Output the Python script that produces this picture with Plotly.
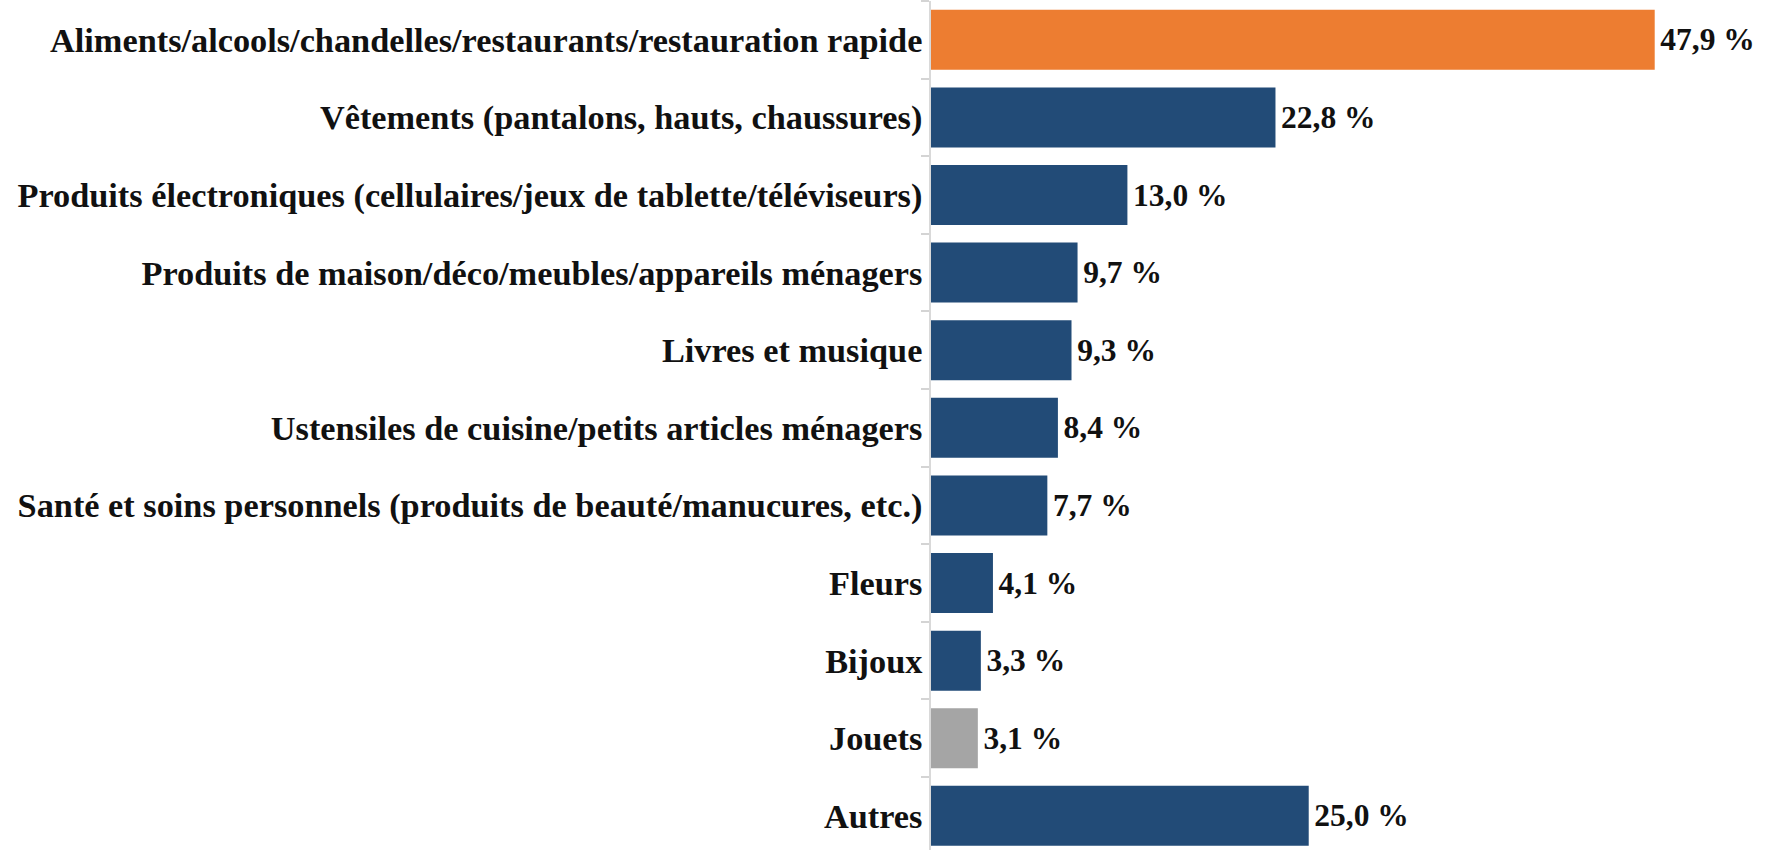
import plotly.graph_objects as go

categories = [
    "Aliments/alcools/chandelles/restaurants/restauration rapide",
    "Vêtements (pantalons, hauts, chaussures)",
    "Produits électroniques (cellulaires/jeux de tablette/téléviseurs)",
    "Produits de maison/déco/meubles/appareils ménagers",
    "Livres et musique",
    "Ustensiles de cuisine/petits articles ménagers",
    "Santé et soins personnels (produits de beauté/manucures, etc.)",
    "Fleurs",
    "Bijoux",
    "Jouets",
    "Autres",
]
values = [47.9, 22.8, 13.0, 9.7, 9.3, 8.4, 7.7, 4.1, 3.3, 3.1, 25.0]
value_labels = ["47,9 %", "22,8 %", "13,0 %", "9,7 %", "9,3 %", "8,4 %",
                "7,7 %", "4,1 %", "3,3 %", "3,1 %", "25,0 %"]
bar_colors = ["#ED7D31", "#224B77", "#224B77", "#224B77", "#224B77", "#224B77",
              "#224B77", "#224B77", "#224B77", "#A5A5A5", "#224B77"]

FONT = "Liberation Serif"

fig = go.Figure(go.Bar(
    x=values,
    y=categories,
    orientation="h",
    marker=dict(color=bar_colors, line=dict(width=0)),
    text=["\u200a" + t for t in value_labels],
    textposition="outside",
    textfont=dict(family=FONT, size=31.5, color="#111111", weight="bold"),
    cliponaxis=False,
    constraintext="none",
))

fig.update_layout(
    width=1765, height=850,
    margin=dict(l=931, r=0, t=1, b=0, autoexpand=False),
    paper_bgcolor="white", plot_bgcolor="white",
    bargap=0.227,
    showlegend=False,
    xaxis=dict(range=[0, 55.2], visible=False, fixedrange=True, automargin=False),
    yaxis=dict(
        range=[10.44, -0.5],
        automargin=False,
        tickson="boundaries",
        ticks="outside", ticklen=8, tickcolor="#d4d4d4", tickwidth=1.5,
        showline=True, linecolor="#d9d9d9", linewidth=1.5,
        showgrid=False,
        tickfont=dict(family=FONT, size=34.3, color="#111111", weight="bold"),
    ),
)

fig.write_html(
    "out.html",
    config={"displayModeBar": False},
    post_script="document.body.style.margin='0';document.body.style.overflow='hidden';",
)
